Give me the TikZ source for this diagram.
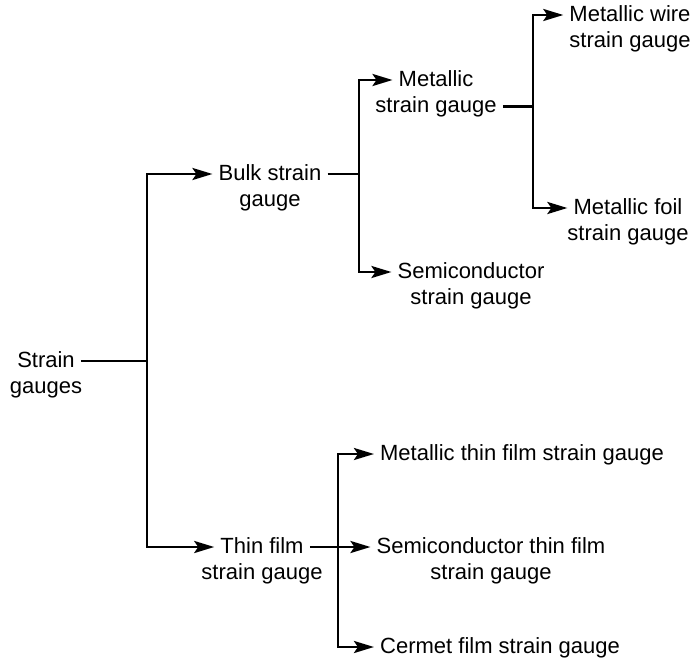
\documentclass[tikz,border=0pt]{standalone}
\usepackage{fontspec}
\setmainfont{Liberation Sans}
\usetikzlibrary{arrows.meta}

\begin{document}
\begin{tikzpicture}[
    x=1pt, y=-1pt,
    txt/.style={font=\fontsize{22}{26}\selectfont, inner xsep=6pt, inner ysep=0pt,
                text height=17pt, text depth=4pt},
    sub/.style={txt, yshift=-5pt},
    link/.style={line width=2.8pt},
    arr/.style={link, -{Stealth[length=20pt, width=12pt, inset=4pt]}}
]
    \useasboundingbox (0,0) rectangle (695,661);

    % labels (first line is the node, second line a label below)
    \node[txt, label={[sub]below:gauges}]                    (root)   at (46,361)  {Strain};
    \node[txt, label={[sub]below:gauge}]                     (bulk)   at (270,174) {Bulk strain};
    \node[txt, label={[sub, name=metal2]below:strain gauge}] (metal)  at (436,80)  {Metallic};
    \node[txt, label={[sub]below:strain gauge}]              (semi)   at (471,272) {Semiconductor};
    \node[txt, label={[sub]below:strain gauge}]              (wire)   at (630,15)  {Metallic wire};
    \node[txt, label={[sub]below:strain gauge}]              (foil)   at (628,208) {Metallic foil};
    \node[txt, label={[sub]below:strain gauge}]              (thin)   at (262,547) {Thin film};
    \node[txt]                                               (mthin)  at (522,454) {Metallic thin film strain gauge};
    \node[txt, label={[sub]below:strain gauge}]              (sthin)  at (491,547) {Semiconductor thin film};
    \node[txt]                                               (cermet) at (500,647) {Cermet film strain gauge};

    % branch points
    \coordinate (j1) at (147,361);
    \coordinate (j2) at (359,174);
    \coordinate (c3) at (533,0);
    \coordinate (j3) at (metal2.east -| c3);
    \coordinate (j4) at (338,547);

    \draw[link] (root.east) -- (j1);
    \draw[arr]  (j1) |- (bulk.west);
    \draw[arr]  (j1) |- (thin.west);

    \draw[link] (bulk.east) -- (j2);
    \draw[arr]  (j2) |- (metal.west);
    \draw[arr]  (j2) |- (semi.west);

    \draw[link] (metal2.east) -- (j3);
    \draw[arr]  (j3) |- (wire.west);
    \draw[arr]  (j3) |- (foil.west);

    \draw[link] (thin.east) -- (j4);
    \draw[arr]  (j4) |- (mthin.west);
    \draw[arr]  (j4) -- (sthin.west);
    \draw[arr]  (j4) |- (cermet.west);
\end{tikzpicture}
\end{document}
